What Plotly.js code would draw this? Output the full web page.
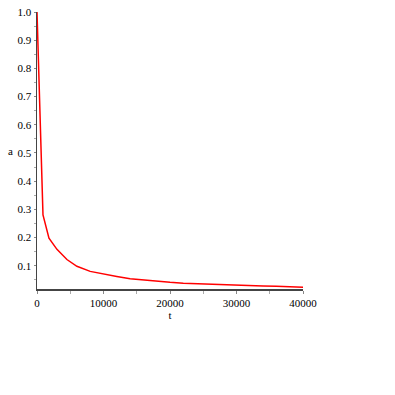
<!DOCTYPE html>
<html>
<head>
<meta charset="utf-8">
<script src="https://cdn.plot.ly/plotly-3.0.1.min.js"></script>
<style>html,body{margin:0;padding:0;background:#fff;}#chart{width:395px;height:395px;}</style>
</head>
<body>
<div id="chart"></div>
<script>
const tValues = [0, 900, 1800, 3000, 4500, 6000, 8000, 10000, 12000, 14000, 16000, 18000, 20000, 22000, 24000, 26000, 28000, 30000, 32000, 34000, 36000, 38000, 40000];
const aValues = [1.0, 0.28, 0.198, 0.158, 0.122, 0.098, 0.080, 0.070, 0.062, 0.054, 0.049, 0.044, 0.041, 0.038, 0.036, 0.034, 0.032, 0.031, 0.029, 0.028, 0.027, 0.025, 0.024];
const xTickVals = [0, 10000, 20000, 30000, 40000];
const yTickVals = [0.1, 0.2, 0.3, 0.4, 0.5, 0.6, 0.7, 0.8, 0.9, 1.0];
const yTickText = ["0.1", "0.2", "0.3", "0.4", "0.5", "0.6", "0.7", "0.8", "0.9", "1.0"];
const xLabel = "t";
const yLabel = "a";

const font = {family: "Times New Roman", size: 11, color: "#000"};

Plotly.newPlot("chart", [{
  x: tValues, y: aValues, type: "scatter", mode: "lines",
  line: {color: "#ff0000", width: 1.5}, hoverinfo: "none"
}], {
  width: 395, height: 395,
  margin: {l: 37, r: 92, t: 12, b: 106},
  paper_bgcolor: "#fff", plot_bgcolor: "#fff",
  showlegend: false,
  font: font,
  xaxis: {
    range: [0, 40000], tickvals: xTickVals, ticktext: xTickVals.map(String),
    showgrid: false, zeroline: false, showline: true, linecolor: "#444", linewidth: 1.5,
    ticks: "outside", ticklen: 3, tickcolor: "#888", tickfont: font,
    minor: {dtick: 5000, ticks: "outside", ticklen: 3, tickcolor: "#aaa"},
    title: {text: xLabel, font: font, standoff: 2}
  },
  yaxis: {
    range: [0.0175, 1.0], tickvals: yTickVals, ticktext: yTickText,
    showgrid: false, zeroline: false, showline: true, linecolor: "#444", linewidth: 1.5,
    ticks: "outside", ticklen: 2, tickcolor: "#888", tickfont: font,
    minor: {tickvals: [0.05,0.15,0.25,0.35,0.45,0.55,0.65,0.75,0.85,0.95], ticks: "outside", ticklen: 2, tickcolor: "#aaa"}
  },
  annotations: [{
    text: yLabel, xref: "paper", yref: "paper", x: -0.1, y: 0.5,
    xanchor: "center", yanchor: "middle", showarrow: false, font: font
  }]
}, {staticPlot: true});
</script>
</body>
</html>
